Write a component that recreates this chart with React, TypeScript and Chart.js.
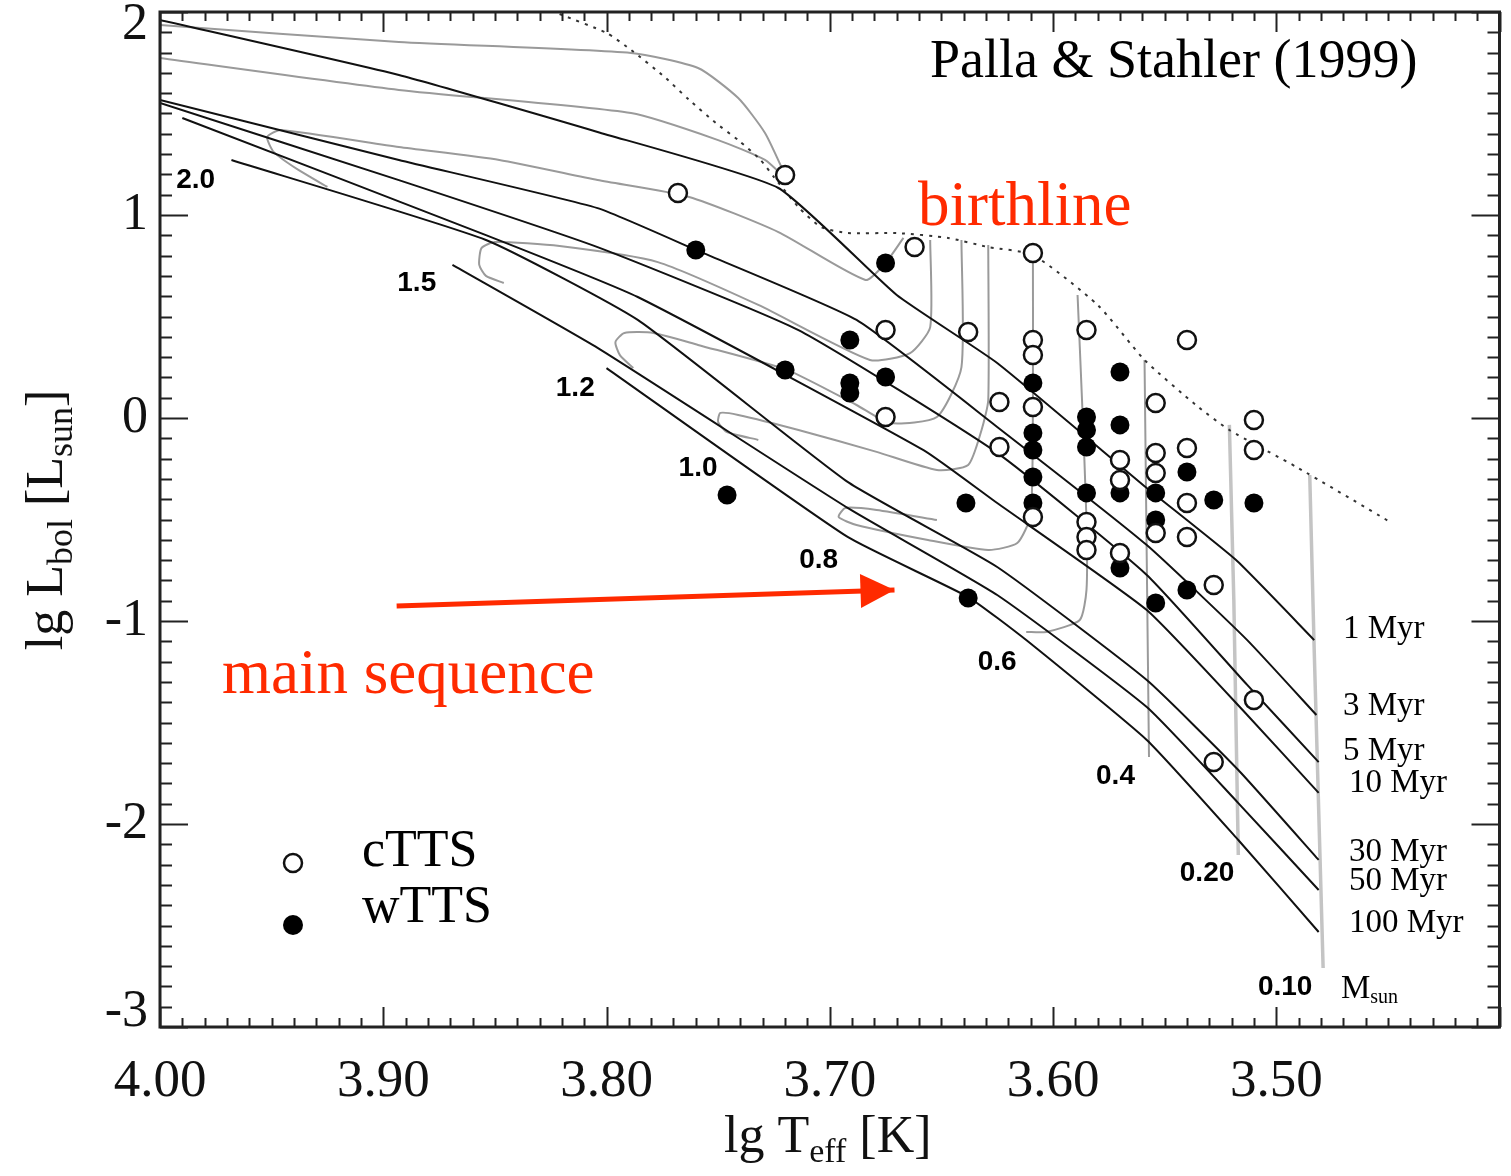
import React, { useEffect, useRef } from "react";
import { Chart, registerables } from "chart.js";

Chart.register(...registerables);

// ---------- axes ----------
const X_MIN = 3.4;
const X_MAX = 4.0;
const Y_MIN = -3;
const Y_MAX = 2;
const X_TICK_LABELS = [4.0, 3.9, 3.8, 3.7, 3.6, 3.5];
const Y_TICK_LABELS = [2, 1, 0, -1, -2, -3];

// ---------- isochrones [lg Teff, lg L] ----------
const ISO_1 = [[4.0, 1.961], [3.893, 1.69], [3.804, 1.409], [3.723, 1.133], [3.67, 0.606], [3.625, 0.271], [3.558, -0.345], [3.518, -0.7], [3.483, -1.094]];
const ISO_3 = [[4.0, 1.567], [3.893, 1.271], [3.804, 1.034], [3.76, 0.828], [3.688, 0.483], [3.625, -0.044], [3.558, -0.626], [3.513, -1.094], [3.482, -1.463]];
const ISO_5 = [[4.0, 1.552], [3.893, 1.172], [3.804, 0.842], [3.714, 0.433], [3.625, -0.172], [3.558, -0.773], [3.513, -1.315], [3.481, -1.695]];
const ISO_10 = [[3.99, 1.478], [3.854, 0.901], [3.786, 0.596], [3.658, -0.158], [3.625, -0.419], [3.558, -0.946], [3.513, -1.463], [3.481, -1.847]];
const ISO_30 = [[3.968, 1.271], [3.854, 0.877], [3.786, 0.483], [3.692, -0.315], [3.625, -0.734], [3.558, -1.291], [3.517, -1.734], [3.481, -2.177]];
const ISO_50 = [[3.869, 0.754], [3.804, 0.345], [3.692, -0.443], [3.625, -0.872], [3.558, -1.424], [3.517, -1.897], [3.481, -2.325]];
const ISO_100 = [[3.8, 0.246], [3.692, -0.586], [3.638, -0.882], [3.612, -1.094], [3.558, -1.586], [3.517, -2.079], [3.481, -2.532]];
const ISOCHRONES = [ISO_1, ISO_3, ISO_5, ISO_10, ISO_30, ISO_50, ISO_100];
const ISO_LABELS = ["1 Myr", "3 Myr", "5 Myr", "10 Myr", "30 Myr", "50 Myr", "100 Myr"];
const ISO_LABEL_Y = [-1.04, -1.42, -1.64, -1.8, -2.14, -2.28, -2.49];

// ---------- evolutionary tracks ----------
const TRACK_HI_A = [[4.0, 1.936], [3.893, 1.852], [3.789, 1.798], [3.759, 1.724], [3.741, 1.576], [3.729, 1.404], [3.72, 1.197]];
const TRACK_HI_B = [[4.0, 1.773], [3.893, 1.616], [3.789, 1.502], [3.75, 1.369], [3.729, 1.271], [3.72, 1.182]];
const TRACK_20 = [[3.667, 0.887], [3.675, 0.764], [3.684, 0.68], [3.723, 0.916], [3.763, 1.089], [3.804, 1.172], [3.848, 1.271], [3.893, 1.335], [3.946, 1.419], [3.952, 1.384], [3.949, 1.31], [3.938, 1.222], [3.925, 1.138]];
const TRACK_15 = [[3.655, 0.877], [3.655, 0.448], [3.664, 0.32], [3.682, 0.286], [3.732, 0.557], [3.777, 0.768], [3.821, 0.847], [3.85, 0.867], [3.856, 0.837], [3.857, 0.754], [3.854, 0.7], [3.846, 0.665]];
const TRACK_12 = [[3.641, 0.877], [3.641, 0.251], [3.652, 0.005], [3.673, -0.025], [3.688, 0.064], [3.719, 0.236], [3.759, 0.36], [3.779, 0.419], [3.792, 0.419], [3.796, 0.374], [3.794, 0.31], [3.788, 0.246]];
const TRACK_10 = [[3.629, 0.852], [3.629, 0.089], [3.632, -0.059], [3.638, -0.232], [3.652, -0.256], [3.679, -0.167], [3.714, -0.059], [3.741, 0.015], [3.749, 0.025], [3.75, -0.02], [3.746, -0.069], [3.732, -0.108]];
const TRACK_08 = [[3.609, 0.803], [3.609, 0.089], [3.61, -0.478], [3.616, -0.616], [3.629, -0.65], [3.656, -0.601], [3.688, -0.527], [3.696, -0.488], [3.693, -0.443], [3.679, -0.453], [3.652, -0.502]];
const TRACK_06 = [[3.589, 0.606], [3.587, 0.089], [3.585, -0.502], [3.585, -0.847], [3.588, -0.995], [3.603, -1.054], [3.612, -1.054]];
const TRACK_04 = [[3.559, 0.286], [3.558, -0.7], [3.557, -1.67]];
const TRACK_02 = [[3.521, -0.034], [3.519, -0.897], [3.517, -2.153]];
const TRACK_01 = [[3.485, -0.281], [3.483, -1.143], [3.479, -2.709]];
const TRACKS_CURVED = [TRACK_HI_A, TRACK_HI_B, TRACK_20, TRACK_15, TRACK_12, TRACK_10, TRACK_08, TRACK_06, TRACK_04];
const TRACKS_LIGHT = [TRACK_02, TRACK_01];

// mass labels [lg Teff, lg L]
const MASS_LABELS = ["2.0", "1.5", "1.2", "1.0", "0.8", "0.6", "0.4", "0.20", "0.10"];
const MASS_LABEL_POS = [[3.984, 1.172], [3.885, 0.665], [3.814, 0.148], [3.759, -0.246], [3.705, -0.7], [3.625, -1.202], [3.572, -1.764], [3.531, -2.241], [3.496, -2.803]];

// ---------- birthline ----------
const BIRTHLINE = [[3.821, 1.99], [3.8, 1.897], [3.789, 1.813], [3.774, 1.68], [3.763, 1.567], [3.751, 1.453], [3.741, 1.369], [3.731, 1.271], [3.725, 1.187], [3.714, 1.039], [3.704, 0.941], [3.692, 0.911], [3.67, 0.911], [3.647, 0.887], [3.629, 0.842], [3.609, 0.803], [3.58, 0.557], [3.559, 0.286], [3.536, 0.064], [3.521, -0.059], [3.491, -0.241], [3.449, -0.512]];

// ---------- stars ----------
const CTTS = [[3.768, 1.108], [3.72, 1.197], [3.662, 0.842], [3.609, 0.813], [3.675, 0.433], [3.638, 0.424], [3.675, 0.005], [3.624, 0.079], [3.624, -0.143], [3.609, 0.384], [3.609, 0.31], [3.609, 0.054], [3.609, -0.488], [3.585, 0.433], [3.54, 0.384], [3.554, 0.074], [3.51, -0.01], [3.51, -0.158], [3.554, -0.172], [3.54, -0.148], [3.554, -0.271], [3.57, -0.207], [3.57, -0.305], [3.54, -0.419], [3.554, -0.567], [3.54, -0.586], [3.585, -0.512], [3.585, -0.586], [3.585, -0.65], [3.57, -0.665], [3.528, -0.823], [3.51, -1.389], [3.528, -1.695]];
const WTTS = [[3.76, 0.828], [3.675, 0.764], [3.691, 0.384], [3.72, 0.236], [3.691, 0.172], [3.691, 0.123], [3.675, 0.202], [3.746, -0.379], [3.639, -0.419], [3.638, -0.887], [3.609, 0.172], [3.609, -0.074], [3.609, -0.158], [3.609, -0.291], [3.609, -0.419], [3.585, 0.005], [3.585, -0.059], [3.585, -0.143], [3.585, -0.369], [3.57, 0.227], [3.57, -0.034], [3.57, -0.369], [3.57, -0.739], [3.554, -0.369], [3.554, -0.502], [3.554, -0.911], [3.54, -0.266], [3.54, -0.847], [3.528, -0.404], [3.51, -0.419]];

// ---------- annotation arrow ----------
const ARROW = [[3.894, -0.926], [3.671, -0.847]];

const RED = "#ff2a00";
const SERIF = "'Liberation Serif', 'DejaVu Serif', serif";
const SANS = "'Liberation Sans', Arial, sans-serif";

const toXY = (pts: number[][]) => pts.map(([x, y]) => ({ x, y }));

type Seg = { t: string; size: number; dy: number };
function drawRich(ctx: CanvasRenderingContext2D, segs: Seg[], x: number, y: number, center: boolean) {
  const widths = segs.map((s) => {
    ctx.font = `${s.size}px ${SERIF}`;
    return ctx.measureText(s.t).width;
  });
  const total = widths.reduce((a, b) => a + b, 0);
  let cx = center ? x - total / 2 : x;
  ctx.textAlign = "left";
  ctx.textBaseline = "alphabetic";
  segs.forEach((s, i) => {
    ctx.font = `${s.size}px ${SERIF}`;
    ctx.fillText(s.t, cx, y + s.dy);
    cx += widths[i];
  });
}

const decorPlugin = {
  id: "decor",
  afterDatasetsDraw(chart: any) {
    const ctx: CanvasRenderingContext2D = chart.ctx;
    const xs = chart.scales.x;
    const ys = chart.scales.y;
    // arrow head
    const p0 = { x: xs.getPixelForValue(ARROW[0][0]), y: ys.getPixelForValue(ARROW[0][1]) };
    const p1 = { x: xs.getPixelForValue(ARROW[1][0]), y: ys.getPixelForValue(ARROW[1][1]) };
    const a = Math.atan2(p1.y - p0.y, p1.x - p0.x);
    const len = 34;
    const hw = 17;
    const c = Math.cos(a);
    const s = Math.sin(a);
    ctx.save();
    ctx.fillStyle = RED;
    ctx.beginPath();
    ctx.moveTo(p1.x, p1.y);
    ctx.lineTo(p1.x - len * c + hw * s, p1.y - len * s - hw * c);
    ctx.lineTo(p1.x - len * c - hw * s, p1.y - len * s + hw * c);
    ctx.closePath();
    ctx.fill();

    // mass labels
    ctx.fillStyle = "#000";
    ctx.font = `bold 28px ${SANS}`;
    ctx.textAlign = "center";
    ctx.textBaseline = "middle";
    MASS_LABELS.forEach((t, i) => {
      ctx.fillText(t, xs.getPixelForValue(MASS_LABEL_POS[i][0]), ys.getPixelForValue(MASS_LABEL_POS[i][1]));
    });
    ctx.restore();
  },
  afterDraw(chart: any) {
    const ctx: CanvasRenderingContext2D = chart.ctx;
    const { left, right, top, bottom } = chart.chartArea;
    const xs = chart.scales.x;
    const ys = chart.scales.y;
    ctx.save();
    // ticks
    ctx.strokeStyle = "#222";
    ctx.lineWidth = 2;
    ctx.beginPath();
    for (let i = 0; i <= 60; i++) {
      const v = X_MIN + i * 0.01;
      const px = Math.round(xs.getPixelForValue(v)) + 0.5;
      const L = i % 10 === 0 ? 20 : 9;
      ctx.moveTo(px, bottom);
      ctx.lineTo(px, bottom - L);
      ctx.moveTo(px, top);
      ctx.lineTo(px, top + L);
    }
    for (let i = 0; i <= 50; i++) {
      const v = Y_MIN + i * 0.1;
      const py = Math.round(ys.getPixelForValue(v)) + 0.5;
      const L = i % 10 === 0 ? 28 : 12;
      ctx.moveTo(left, py);
      ctx.lineTo(left + L, py);
      ctx.moveTo(right, py);
      ctx.lineTo(right - L, py);
    }
    ctx.stroke();
    ctx.lineWidth = 3;
    ctx.strokeRect(left, top, right - left, bottom - top);

    // tick labels
    ctx.fillStyle = "#111";
    ctx.font = `53px ${SERIF}`;
    ctx.textAlign = "center";
    ctx.textBaseline = "alphabetic";
    X_TICK_LABELS.forEach((v) => {
      ctx.fillText(v.toFixed(2), xs.getPixelForValue(v), bottom + 69);
    });
    ctx.font = `52px ${SERIF}`;
    ctx.textAlign = "right";
    ctx.textBaseline = "middle";
    Y_TICK_LABELS.forEach((v) => {
      let py = ys.getPixelForValue(v);
      if (v === Y_MAX) py += 13;
      if (v === Y_MIN) py -= 15;
      ctx.fillText(String(v), left - 12, py);
    });

    // axis titles
    drawRich(ctx, [
      { t: "lg T", size: 52, dy: 0 },
      { t: "eff", size: 34, dy: 10 },
      { t: " [K]", size: 52, dy: 0 },
    ], (left + right) / 2 - 2, bottom + 125, true);
    ctx.save();
    ctx.translate(62, 520);
    ctx.rotate(-Math.PI / 2);
    drawRich(ctx, [
      { t: "lg L", size: 52, dy: 0 },
      { t: "bol", size: 36, dy: 10 },
      { t: " [L", size: 52, dy: 0 },
      { t: "sun", size: 36, dy: 10 },
      { t: "]", size: 52, dy: 0 },
    ], 0, 0, true);
    ctx.restore();

    // title text
    ctx.fillStyle = "#000";
    ctx.textAlign = "left";
    ctx.textBaseline = "alphabetic";
    ctx.font = `54px ${SERIF}`;
    ctx.fillText("Palla & Stahler (1999)", 930, 77);

    // red annotations
    ctx.fillStyle = RED;
    ctx.font = `63px ${SERIF}`;
    ctx.fillText("birthline", 918, 225);
    ctx.fillText("main sequence", 222, 693);

    // isochrone labels
    ctx.fillStyle = "#000";
    ctx.font = `33px ${SERIF}`;
    ctx.textBaseline = "middle";
    const lx = xs.getPixelForValue(3.471);
    ISO_LABELS.forEach((t, i) => {
      ctx.fillText(t, lx + (t.length > 5 ? 8 : 2), ys.getPixelForValue(ISO_LABEL_Y[i]));
    });
    ctx.textBaseline = "alphabetic";
    drawRich(ctx, [
      { t: "M", size: 33, dy: 0 },
      { t: "sun", size: 20, dy: 5 },
    ], lx, ys.getPixelForValue(-2.803) + 11, false);

    // legend
    ctx.strokeStyle = "#111";
    ctx.lineWidth = 2.5;
    ctx.fillStyle = "#fff";
    ctx.beginPath();
    ctx.arc(293, 863, 9, 0, Math.PI * 2);
    ctx.fill();
    ctx.stroke();
    ctx.fillStyle = "#000";
    ctx.beginPath();
    ctx.arc(293, 925, 10, 0, Math.PI * 2);
    ctx.fill();
    ctx.font = `52px ${SERIF}`;
    ctx.fillText("cTTS", 362, 866);
    ctx.fillText("wTTS", 362, 922);
    ctx.restore();
  },
};

export default function App() {
  const ref = useRef<HTMLCanvasElement | null>(null);
  useEffect(() => {
    if (!ref.current) return;
    const lineDs = (pts: number[][], color: string, width: number, extra: any = {}) => ({
      type: "scatter",
      data: toXY(pts),
      showLine: true,
      borderColor: color,
      borderWidth: width,
      pointRadius: 0,
      tension: 0.2,
      fill: false,
      borderJoinStyle: "round",
      ...extra,
    });
    const datasets: any[] = [
      {
        label: "cTTS",
        data: toXY(CTTS),
        showLine: false,
        pointRadius: 9,
        pointBorderWidth: 2.5,
        pointBackgroundColor: "#fff",
        pointBorderColor: "#111",
      },
      {
        label: "wTTS",
        data: toXY(WTTS),
        showLine: false,
        pointRadius: 9.5,
        pointBorderWidth: 0,
        pointBackgroundColor: "#000",
        pointBorderColor: "#000",
      },
      lineDs(ARROW, RED, 5, { tension: 0 }),
      ...ISOCHRONES.map((p) => lineDs(p, "#111", 2, { tension: 0.15 })),
      lineDs(BIRTHLINE, "#333", 2, { borderDash: [3, 6], tension: 0.2 }),
      ...TRACKS_CURVED.map((p) => lineDs(p, "#9a9a9a", 2)),
      ...TRACKS_LIGHT.map((p) => lineDs(p, "#c4c4c4", 3.5, { tension: 0 })),
    ];
    const chart = new Chart(ref.current, {
      type: "scatter",
      data: { datasets },
      options: {
        responsive: false,
        animation: false,
        events: [],
        layout: { padding: { top: 12, right: 1, left: 0, bottom: 0 } },
        plugins: { legend: { display: false }, tooltip: { enabled: false }, title: { display: false } },
        scales: {
          x: {
            type: "linear",
            min: X_MIN,
            max: X_MAX,
            reverse: true,
            grid: { display: false },
            border: { display: false },
            ticks: { display: false },
            afterFit: (s: any) => {
              s.height = 149;
            },
          },
          y: {
            type: "linear",
            min: Y_MIN,
            max: Y_MAX,
            grid: { display: false },
            border: { display: false },
            ticks: { display: false },
            afterFit: (s: any) => {
              s.width = 160;
            },
          },
        },
      },
      plugins: [decorPlugin],
    } as any);
    return () => chart.destroy();
  }, []);
  return (
    <div style={{ position: "absolute", left: 0, top: 0, width: 1511, height: 1176, background: "#fff" }}>
      <canvas ref={ref} width={1511} height={1176} style={{ display: "block" }} />
    </div>
  );
}
